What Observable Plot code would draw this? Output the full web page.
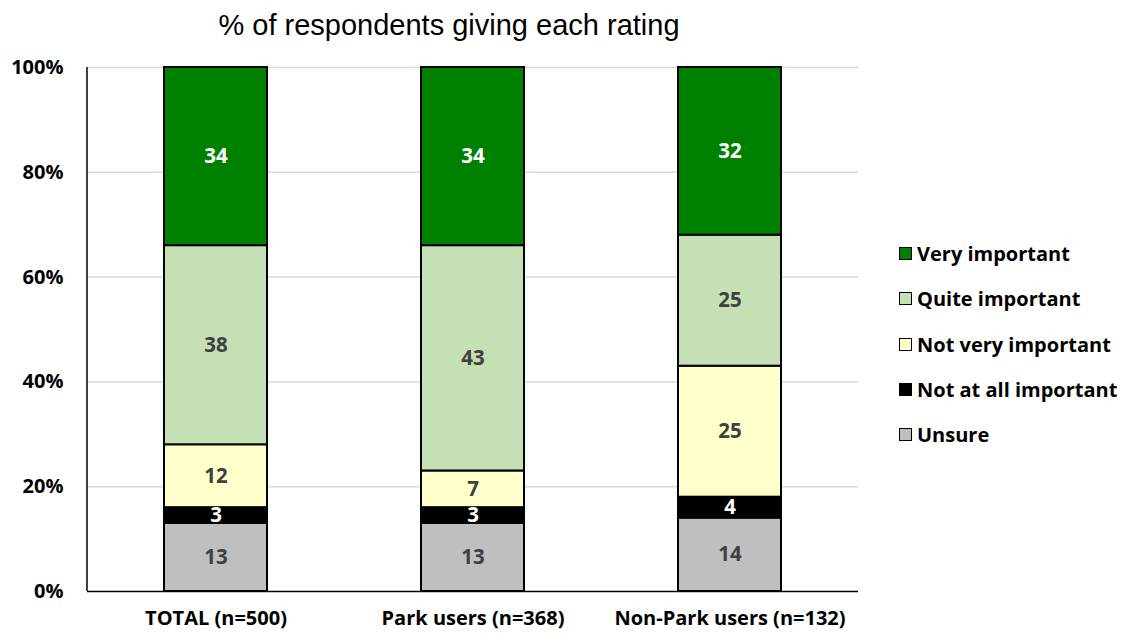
<!DOCTYPE html>
<html>
<head>
<meta charset="utf-8">
<script src="https://cdn.jsdelivr.net/npm/d3@7"></script>
<script src="https://cdn.jsdelivr.net/npm/@observablehq/plot@0.6"></script>
<style>
  html, body { margin: 0; padding: 0; background: #fff; }
  #wrap { position: relative; width: 1124px; height: 635px; overflow: hidden; }
  #title { position: absolute; left: 0; width: 898px; text-align: center; top: 9px; line-height: 1.15;
           font-family: "Liberation Sans", Arial, sans-serif; font-size: 29px; color: #000; }
  #chart { position: absolute; left: 0; top: 45px; }
  #legend { position: absolute; left: 899px; top: 231px; font-family: "Open Sans", Lato, sans-serif;
            font-weight: bold; font-size: 20px; color: #000; }
  .item { display: flex; align-items: center; height: 45.3px; }
  .sw { width: 11px; height: 11px; border: 1.5px solid #000; margin-right: 5px; }
</style>
</head>
<body>
<div id="wrap">
  <div id="title">% of respondents giving each rating</div>
  <div id="chart"></div>
  <div id="legend"></div>
</div>
<script>
const groups = ["TOTAL (n=500)", "Park users (n=368)", "Non-Park users (n=132)"];
const ratings = ["Unsure", "Not at all important", "Not very important", "Quite important", "Very important"];
const unsure = [13, 13, 14];
const notAtAll = [3, 3, 4];
const notVery = [12, 7, 25];
const quite = [38, 43, 25];
const very = [34, 34, 32];
const colors = ["#bfbfbf", "#000000", "#ffffcc", "#c5e0b4", "#008000"];
const yTicks = [0, 20, 40, 60, 80, 100];
const legendOrder = ["Very important", "Quite important", "Not very important", "Not at all important", "Unsure"];

const series = [unsure, notAtAll, notVery, quite, very];
const data = [];
groups.forEach((g, i) => ratings.forEach((r, j) => data.push({group: g, rating: r, value: series[j][i]})));

const darkLabel = new Set(["Very important", "Not at all important"]);

const leftAxisLine = (index, scales, values, dims) => {
  const g = d3.create("svg:g");
  g.append("line")
    .attr("x1", dims.marginLeft).attr("x2", dims.marginLeft)
    .attr("y1", scales.y(100)).attr("y2", scales.y(0))
    .attr("stroke", "#000").attr("stroke-width", 1.5);
  return g.node();
};

const plot = Plot.plot({
  width: 1124,
  height: 590,
  marginLeft: 87,
  marginRight: 266,
  marginTop: 22,
  marginBottom: 44,
  style: {fontFamily: "'Open Sans', Lato, sans-serif", background: "#fff"},
  x: {domain: groups, paddingInner: 0.6, paddingOuter: 0.3, label: null},
  y: {domain: [0, 100], label: null},
  color: {domain: ratings, range: colors},
  marks: [
    Plot.ruleY(yTicks.slice(1), {stroke: "#d9d9d9", strokeWidth: 1.5}),
    Plot.barY(data, Plot.stackY({x: "group", y: "value", fill: "rating", stroke: "#000", strokeWidth: 2, inset: 0})),
    Plot.text(data, Plot.stackY({x: "group", y: "value", text: d => String(d.value),
      fill: d => darkLabel.has(d.rating) ? "#ffffff" : "#404040",
      fontSize: 20.5, fontWeight: "bold"})),
    Plot.ruleY([0], {stroke: "#000", strokeWidth: 1.5}),
    leftAxisLine,
    Plot.axisY({ticks: yTicks, tickFormat: d => d + "%", tickSize: 0, tickPadding: 24,
      fontSize: 20, fontWeight: "bold", fill: "#000", label: null}),
    Plot.axisX({tickSize: 0, tickPadding: 19, fontSize: 20, fontWeight: "bold", fill: "#000", label: null})
  ]
});
document.getElementById("chart").appendChild(plot);

const colorOf = Object.fromEntries(ratings.map((r, i) => [r, colors[i]]));
const legend = document.getElementById("legend");
legendOrder.forEach(r => {
  const item = document.createElement("div");
  item.className = "item";
  const sw = document.createElement("span");
  sw.className = "sw";
  sw.style.background = colorOf[r];
  const t = document.createElement("span");
  t.textContent = r;
  item.appendChild(sw);
  item.appendChild(t);
  legend.appendChild(item);
});
</script>
</body>
</html>
